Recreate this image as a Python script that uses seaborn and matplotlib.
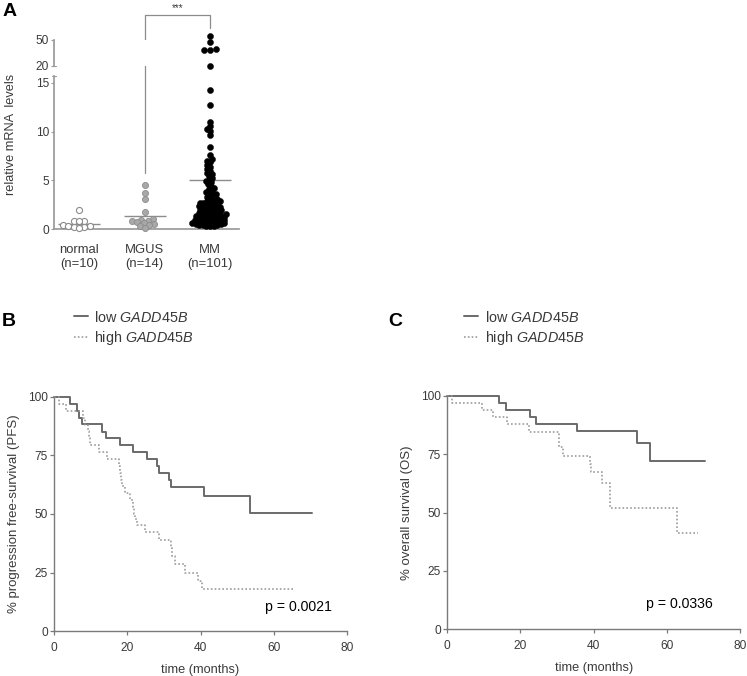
import matplotlib
matplotlib.use("Agg")
import matplotlib.pyplot as plt
import matplotlib.transforms as mtrans
from matplotlib.collections import PathCollection
import numpy as np
import pandas as pd
import seaborn as sns

# ---- panel A: relative mRNA levels ----
groups = ["normal", "MGUS", "MM"]
group_labels = ["normal\n(n=10)", "MGUS\n(n=14)", "MM\n(n=101)"]
normal_vals = [2.0, 0.9, 0.9, 0.8, 0.4, 0.3, 0.3, 0.2, 0.2, 0.1]
mgus_vals = [4.5, 3.7, 3.1, 1.8, 1.1, 1.0, 0.9, 0.8, 0.7, 0.6, 0.5, 0.4, 0.3, 0.1]
mm_vals = [54.5, 47.5, 40.0, 38.5, 38.0, 20.0,
           14.3, 12.7, 11.0, 10.6, 10.3, 10.1, 9.7, 8.4,
           7.6, 7.2, 7.0, 6.9, 6.6, 6.4, 6.2, 6.0, 5.8, 5.7, 5.5, 5.3, 5.1, 4.9, 4.8, 4.6,
           4.4, 4.2, 4.1, 3.9, 3.8, 3.7, 3.6, 3.5,
           0.3, 0.3, 0.35, 0.4, 0.4, 0.45, 0.5, 0.55, 0.6, 0.6,
           0.65, 0.7, 0.75, 0.8, 0.8, 0.85, 0.9, 0.95, 1.0, 1.0,
           1.05, 1.1, 1.15, 1.2, 1.2, 1.25, 1.3, 1.35, 1.4, 1.4,
           1.45, 1.5, 1.55, 1.6, 1.6, 1.65, 1.7, 1.75, 1.8, 1.85,
           1.9, 1.95, 2.0, 2.05, 2.1, 2.15, 2.2, 2.25, 2.3, 2.35,
           2.4, 2.5, 2.55, 2.6, 2.65, 2.7, 2.8, 2.85, 2.9, 3.0,
           3.1, 3.2, 3.35]
center_vals = [0.55, 1.35, 5.0]
break_at = 18

# ---- panel B: progression free survival ----
pfs_low_t = [0, 4.4, 6.2, 6.9, 7.7, 13.2, 14.2, 18.0, 21.7, 25.5, 28.0, 28.6, 31.5, 31.9, 41.0, 53.6, 70.4]
pfs_low_s = [100, 97.0, 94.0, 90.9, 88.3, 85.1, 82.3, 79.5, 76.4, 73.4, 70.5, 67.7, 64.7, 61.6, 57.5, 50.6, 50.6]
pfs_high_t = [0, 1.5, 3.2, 8.0, 8.6, 9.4, 9.6, 9.9, 12.4, 14.4, 17.8, 18.0, 18.3, 18.6, 19.5, 20.7,
              21.5, 21.9, 22.2, 22.6, 24.8, 28.8, 31.9, 32.1, 33.0, 35.8, 39.4, 40.3, 65.8]
pfs_high_s = [100, 97.1, 94.1, 91.2, 88.2, 85.3, 82.4, 79.4, 76.5, 73.5, 70.6, 67.6, 64.7, 61.8, 58.8, 55.9,
              52.9, 50.0, 48.0, 45.2, 42.2, 39.1, 35.6, 32.1, 28.6, 25.0, 21.4, 17.9, 17.9]
pfs_p = "p = 0.0021"

# ---- panel C: overall survival ----
os_low_t = [0, 14.2, 16.0, 22.7, 24.3, 35.4, 51.8, 55.5, 70.4]
os_low_s = [100, 96.9, 93.9, 90.9, 88.0, 84.9, 80.0, 72.0, 72.0]
os_high_t = [0, 1.4, 9.6, 12.6, 16.2, 22.4, 30.5, 31.6, 39.1, 39.3, 42.4, 44.4, 62.7, 68.4]
os_high_s = [100, 97.0, 93.9, 90.9, 88.0, 84.4, 78.0, 74.4, 70.9, 67.6, 62.6, 52.1, 41.4, 41.4]
os_p = "p = 0.0336"

sns.set_theme(style="white")
plt.rcParams["font.family"] = ["Liberation Sans", "DejaVu Sans"]
plt.rcParams["mathtext.fontset"] = "custom"
plt.rcParams["mathtext.rm"] = "Liberation Sans"
plt.rcParams["mathtext.it"] = "Liberation Sans:italic"

W, H = 747, 676
fig = plt.figure(figsize=(W / 100, H / 100), dpi=100)


def fx(px):
    return px / W


def fy(px):
    return 1 - px / H


txt = "#3a3a3a"
axis_a = "#9a9a9a"

# ---------- panel A ----------
ax_lo = fig.add_axes([fx(54), fy(229.3), fx(239) - fx(54), fy(76) - fy(229.3)])
ax_hi = fig.add_axes([fx(54), fy(65.7), fx(239) - fx(54), fy(40) - fy(65.7)])

df_a = pd.DataFrame({
    "group": ["normal"] * len(normal_vals) + ["MGUS"] * len(mgus_vals) + ["MM"] * len(mm_vals),
    "value": normal_vals + mgus_vals + mm_vals,
})
point_style = {
    "normal": dict(color="white", edgecolor="#8c8c8c", linewidth=0.8),
    "MGUS": dict(color="#a8a8a8", edgecolor="#8c8c8c", linewidth=0.6),
    "MM": dict(color="black", edgecolor="black", linewidth=0.3),
}
# sizes used to lay out the swarms (smaller than the dots, so they overlap like the original)
swarm_size = {"normal": 2.9, "MGUS": 2.9, "MM": 2.2}
dot_size = 4.4     # size the dots are drawn at
for g in groups:
    sub = df_a[df_a["group"] == g]
    lo = sub[sub["value"] < break_at]
    hi = sub[sub["value"] >= break_at]
    sns.swarmplot(data=lo, x="group", y="value", order=groups, ax=ax_lo, size=swarm_size[g],
                  warn_thresh=1, **point_style[g])
    if len(hi):
        sns.swarmplot(data=hi, x="group", y="value", order=groups, ax=ax_hi, size=3.6,
                      warn_thresh=1, **point_style[g])

# center lines
for i, v in enumerate(center_vals):
    ax_lo.hlines(v, i - 0.32, i + 0.32, color="#8c8c8c", lw=1.0, zorder=2)

ax_lo.set_xlim(-0.38, 2.44)
ax_hi.set_xlim(-0.38, 2.44)
ax_lo.set_ylim(0, 15.7)
ax_hi.set_ylim(20, 50)

sns.despine(ax=ax_lo)
sns.despine(ax=ax_hi, bottom=True)
for ax in (ax_lo, ax_hi):
    ax.set_xlabel("")
    ax.set_ylabel("")
    ax.spines["left"].set_color(axis_a)
    ax.spines["bottom"].set_color(axis_a)
    ax.tick_params(axis="y", left=True, length=2.2, width=0.8, color=axis_a, pad=1.5,
                   labelsize=8.6, labelcolor=txt)
ax_lo.set_yticks([0, 5, 10, 15])
ax_hi.set_yticks([20, 50])
ax_hi.set_xticks([])
ax_lo.set_xticks(range(len(groups)))
ax_lo.set_xticklabels(group_labels, fontsize=9.4, color=txt, linespacing=1.2)
ax_lo.tick_params(axis="x", length=0, pad=10.5)

# axis break caps
ax_lo.plot([-0.012, 0.012], [1, 1], transform=ax_lo.transAxes, color=axis_a, lw=0.8, clip_on=False)
ax_hi.plot([-0.012, 0.012], [0, 0], transform=ax_hi.transAxes, color=axis_a, lw=0.8, clip_on=False)

fig.text(fx(11), fy(134), "relative mRNA  levels", rotation=90, ha="center", va="center",
         fontsize=9.2, color=txt)

# significance bracket MGUS vs MM
br = mtrans.blended_transform_factory(ax_lo.transData, fig.transFigure)
ax_lo.plot([1, 1, 2, 2], [fy(173), fy(15), fy(15), fy(28)], transform=br,
           color="#8c8c8c", lw=0.9, clip_on=False)
ax_lo.text(1.5, fy(13), "***", transform=br, ha="center", va="bottom", fontsize=7, color=txt)

fig.text(fx(3), fy(12), "A", fontsize=14, fontweight="bold", va="center", ha="left", color="black")

# ---------- panels B and C ----------
axis_bc = "#7a7a7a"


def survival_panel(rect, low_t, low_s, high_t, high_s, ylab, ptext, pxy, letter, letter_x, leg_x):
    ax = fig.add_axes(rect)
    sns.lineplot(x=low_t, y=low_s, ax=ax, drawstyle="steps-post", estimator=None, sort=False,
                 color="#6a6a6a", lw=1.4, label="low $\\mathit{GADD45B}$")
    sns.lineplot(x=high_t, y=high_s, ax=ax, drawstyle="steps-post", estimator=None, sort=False,
                 color="#9c9c9c", lw=1.2, linestyle=(0, (1, 1.3)), label="high $\\mathit{GADD45B}$")
    for ln in ax.lines:
        ln.set_clip_on(False)
    ax.set_xlim(0, 80)
    ax.set_ylim(0, 100)
    ax.set_xticks([0, 20, 40, 60, 80])
    ax.set_yticks([0, 25, 50, 75, 100])
    sns.despine(ax=ax)
    for s in ("left", "bottom"):
        ax.spines[s].set_color(axis_bc)
        ax.spines[s].set_linewidth(1.0)
    ax.tick_params(left=True, bottom=True, length=3, width=0.9, color=axis_bc,
                   labelsize=8.6, labelcolor=txt)
    ax.tick_params(axis="y", pad=1.5)
    ax.tick_params(axis="x", pad=5)
    ax.set_xlabel("time (months)", fontsize=9.2, color=txt, labelpad=7)
    ax.set_ylabel(ylab, fontsize=9.5, color=txt, labelpad=6)
    ax.text(pxy[0], pxy[1], ptext, fontsize=10.2, color="black", ha="left", va="center")
    handles, labels = ax.get_legend_handles_labels()
    ax.legend(handles, labels, loc="upper left", bbox_to_anchor=(fx(leg_x), fy(309.5)),
              bbox_transform=fig.transFigure, frameon=False, fontsize=10.4, borderpad=0,
              borderaxespad=0, handlelength=0.95, handletextpad=0.45, labelspacing=0.3,
              labelcolor=txt)
    fig.text(fx(letter_x), fy(321), letter, fontsize=14, fontweight="bold", va="center",
             ha="left", color="black")
    return ax


ax_b = survival_panel([fx(54), fy(631), fx(347) - fx(54), fy(397) - fy(631)],
                      pfs_low_t, pfs_low_s, pfs_high_t, pfs_high_s,
                      "% progression free-survival (PFS)", pfs_p, (57.6, 10.3), "B", 2, 74)
ax_c = survival_panel([fx(447.3), fy(629.3), fx(740) - fx(447.3), fy(396) - fy(629.3)],
                      os_low_t, os_low_s, os_high_t, os_high_s,
                      "% overall survival (OS)", os_p, (54.3, 10.8), "C", 388, 464.3)

# lay the swarms out once with the small sizes, then freeze them and draw bigger dots
fig.canvas.draw()
for ax in (ax_lo, ax_hi):
    for c in ax.collections:
        if not isinstance(c, PathCollection):
            continue
        if "draw" in c.__dict__:
            del c.draw
        c.set_sizes([dot_size ** 2])
        c.set_clip_on(False)
        c.set_zorder(3)

fig.savefig("out.png", dpi=100)
